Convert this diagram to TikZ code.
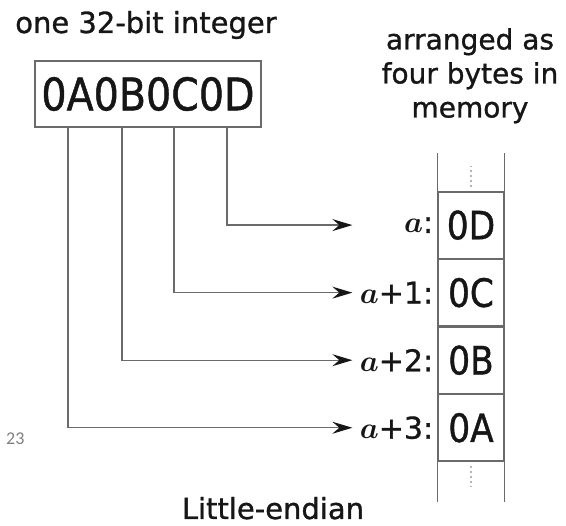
\RequirePackage{fix-cm}
\documentclass[tikz,border=0pt]{standalone}
\usepackage{bm}
\usepackage{fontspec}
\setmainfont{DejaVu Sans}[FakeBold=1]
\newfontfamily\capfont[FakeBold=1]{DejaVu Sans}
\newfontfamily\hexfont[FakeStretch=0.88,FakeBold=1]{DejaVu Sans}
\newfontfamily\pagefont{Carlito}
\usepackage{tikz}
\usetikzlibrary{arrows.meta,positioning,calc}
\definecolor{MemLine}{HTML}{6A6A6A}
\definecolor{MemText}{HTML}{161616}
\definecolor{MemDots}{HTML}{B4B4B4}
\definecolor{MemPage}{HTML}{808080}
\tikzset{
  wire/.style={draw=MemLine,line width=1.3pt,-{Stealth[length=20pt,width=12pt,inset=7pt,color=MemText]}},
  cell/.style={draw=MemLine,line width=1.3pt,minimum width=66pt,minimum height=66.25pt,inner sep=0pt,font=\hexfont\fontsize{39}{39}\selectfont,text=MemText},
  addr/.style={inner sep=0pt,font=\capfont\fontsize{30}{30}\selectfont,text=MemText},
  caption/.style={inner sep=0pt,font=\capfont\fontsize{29}{34}\selectfont,text=MemText}
}
\begin{document}
\begin{tikzpicture}[x=1pt,y=-1pt]
\useasboundingbox (0,0) rectangle (566,526);
\node[caption,anchor=base] (title) at (146,33) {one 32-bit integer};
\node[draw=MemLine,line width=1.3pt,minimum width=226pt,minimum height=66pt,inner sep=0pt,font=\hexfont\fontsize{45}{45}\selectfont,text=MemText] (word) at (148,94) {0A0B0C0D};
\node[caption,align=center,anchor=north,font=\capfont\fontsize{28}{34}\selectfont] (memtitle) at (470,28) {arranged as\\four bytes in\\memory};
% memory column
\node[cell] (m0) at (471,225.1) {0D};
\node[cell,below=0pt of m0] (m1) {0C};
\node[cell,below=0pt of m1] (m2) {0B};
\node[cell,below=0pt of m2] (m3) {0A};
\draw[MemLine,line width=1.3pt] (m0.north west) -- ++(0,-38);
\draw[MemLine,line width=1.3pt] (m0.north east) -- ++(0,-38);
\draw[MemLine,line width=1.3pt] (m3.south west) -- ++(0,40);
\draw[MemLine,line width=1.3pt] (m3.south east) -- ++(0,40);
\draw[MemDots,line width=2pt,dash pattern=on 2pt off 3pt] ($(m0.north)+(0,-4)$) -- ($(m0.north)+(0,-25)$);
\draw[MemDots,line width=2pt,dash pattern=on 2pt off 3pt] ($(m3.south)+(0,4)$) -- ($(m3.south)+(0,25)$);
% addresses
\node[addr,left=4pt of m0] (a0) {$\bm{a}$:};
\node[addr,left=4pt of m1] (a1) {$\bm{a}$+1:};
\node[addr,left=4pt of m2] (a2) {$\bm{a}$+2:};
\node[addr,left=4pt of m3] (a3) {$\bm{a}$+3:};
% byte wires
\draw[wire] ([xshift=79pt]word.south) |- ([xshift=-85pt]m0.west);
\draw[wire] ([xshift=26pt]word.south) |- ([xshift=-85pt]m1.west);
\draw[wire] ([xshift=-26pt]word.south) |- ([xshift=-85pt]m2.west);
\draw[wire] ([xshift=-80pt]word.south) |- ([xshift=-85pt]m3.west);
\node[caption,anchor=base] (endian) at (273,519) {Little-endian};
\node[anchor=base west,inner sep=0pt,font=\pagefont\fontsize{18}{18}\selectfont,text=MemPage] (page) at (6,445) {23};
\end{tikzpicture}
\end{document}
